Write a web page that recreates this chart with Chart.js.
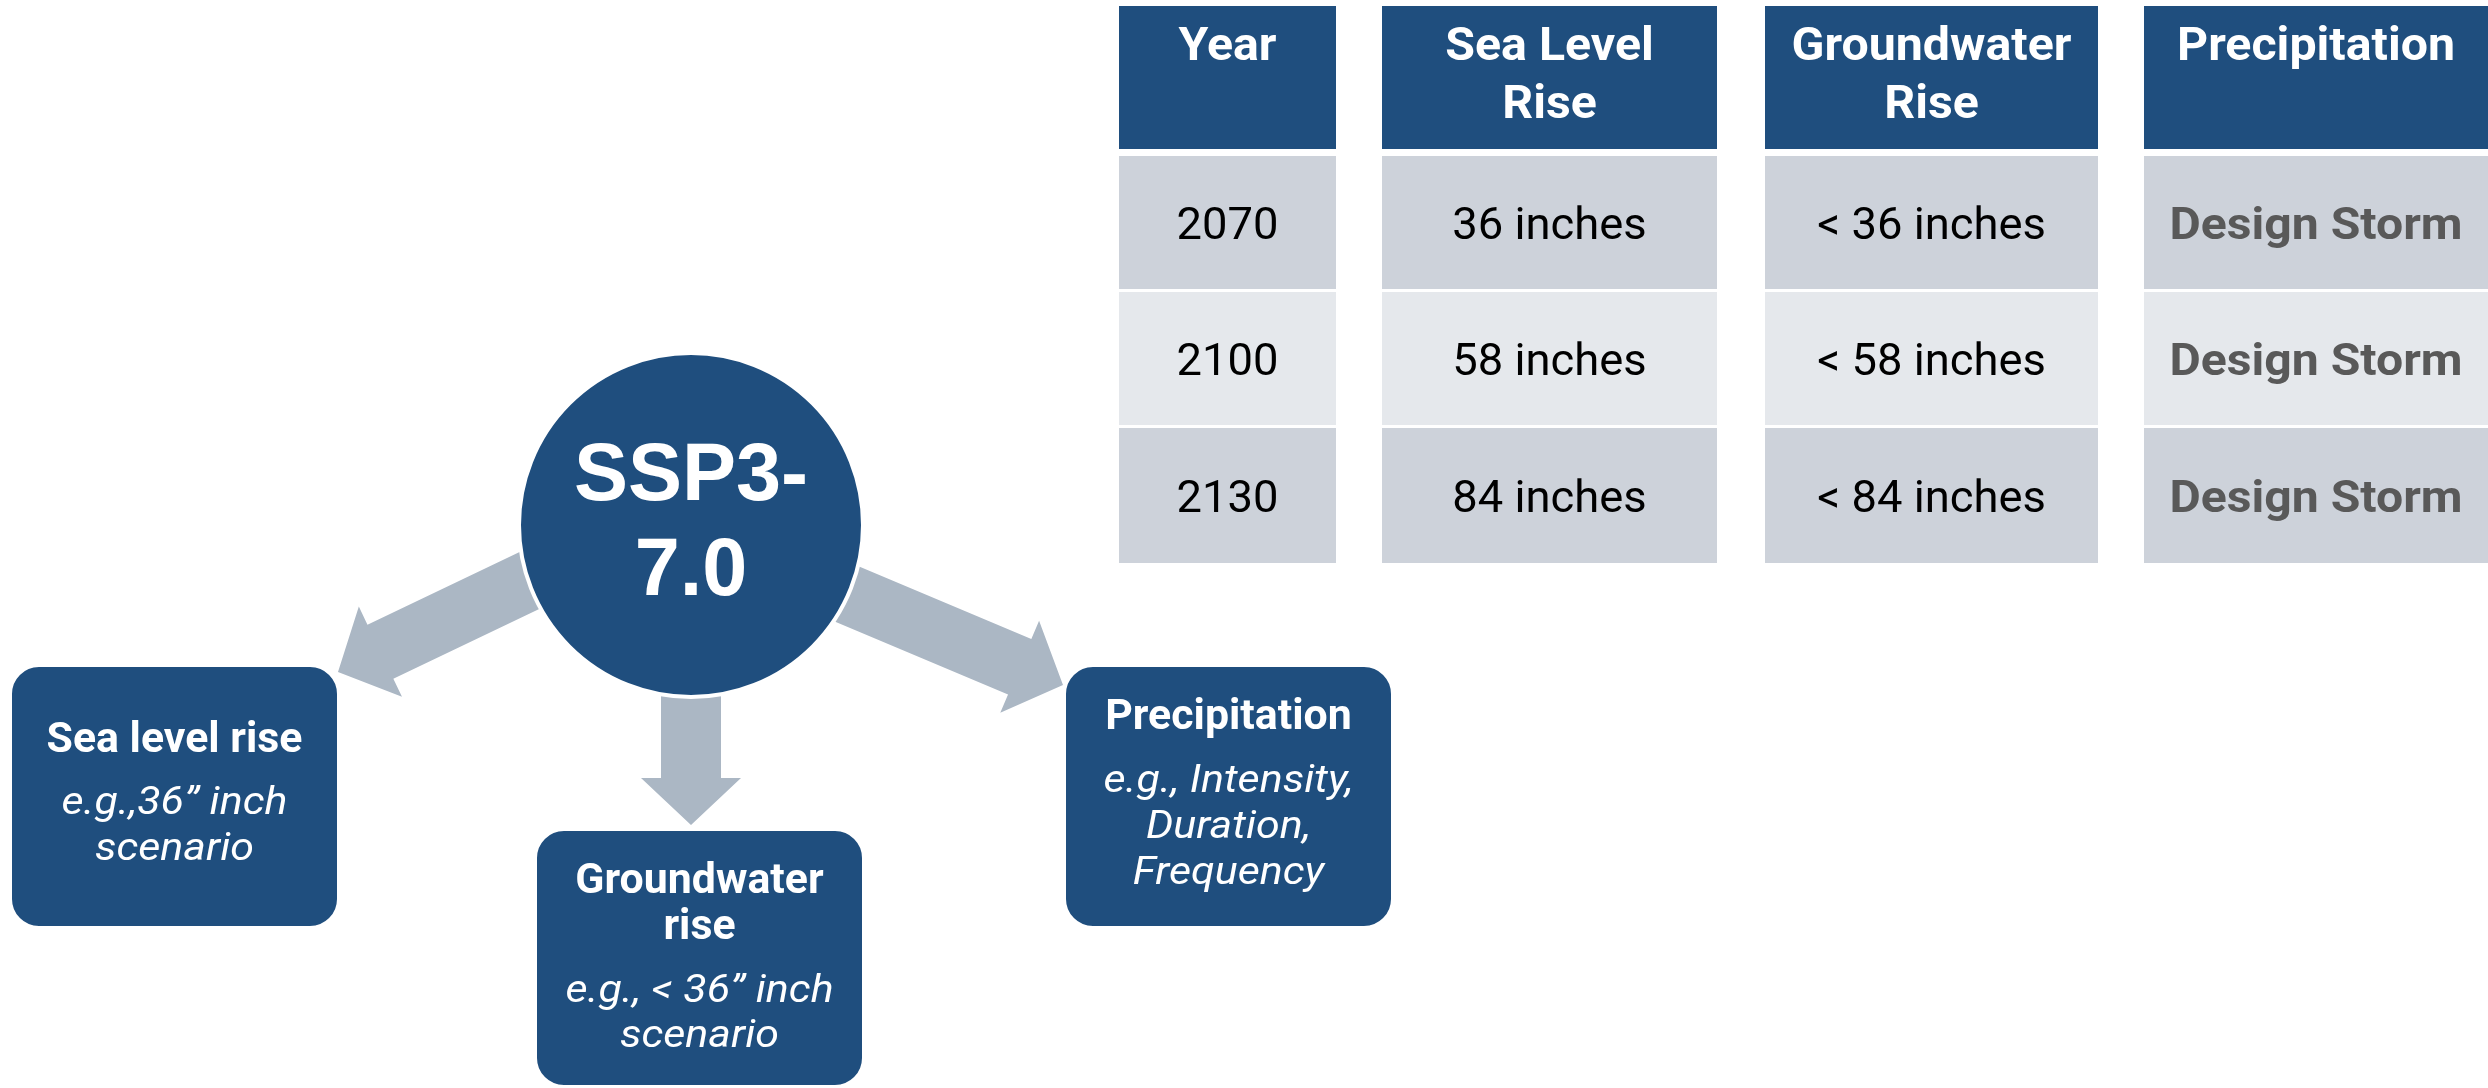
<!DOCTYPE html>
<html>
<head>
<meta charset="utf-8">
<script src="https://cdn.jsdelivr.net/npm/chart.js@4"></script>
<style>
html,body{margin:0;padding:0;background:#ffffff;}
#wrap{width:2488px;height:1088px;position:relative;}
</style>
</head>
<body>
<div id="wrap"><canvas id="c"></canvas></div>
<script>
// ---- data ----
const headers = [["Year"], ["Sea Level", "Rise"], ["Groundwater", "Rise"], ["Precipitation"]];
const years = ["2070", "2100", "2130"];
const seaLevelRise = [36, 58, 84];          // inches
const groundwaterRise = [36, 58, 84];       // shown as "< N inches"
const precipitation = ["Design Storm", "Design Storm", "Design Storm"];
const scenarioLines = ["SSP3-", "7.0"];
const driverTitles = [["Sea level rise"], ["Groundwater", "rise"], ["Precipitation"]];
const driverExamples = [["e.g.,36\u201D inch", "scenario"], ["e.g., < 36\u201D inch", "scenario"], ["e.g., Intensity,", "Duration,", "Frequency"]];

// ---- layout (canvas units through the chart scales) ----
const colX = [[1119, 1336], [1382, 1717], [1765, 2098], [2144, 2488]];
const headerY = [6, 149];
const rowY = [[156, 289], [292, 425], [428, 563]];
const circle = {x: 691, y: 525, r: 172};
const boxes = [
  {x0: 11, x1: 338, y0: 666, y1: 927, title: [752], ex: [814, 860]},
  {x0: 536, x1: 863, y0: 830, y1: 1086, title: [893, 939], ex: [1002, 1047]},
  {x0: 1065, x1: 1392, y0: 666, y1: 927, title: [729], ex: [792, 838, 884]}
];
const arrows = [
  {from: [635, 530], to: [338, 672]},
  {from: [691, 650], to: [691, 825]},
  {from: [759, 557], to: [1063, 685]}
];

const BLUE = '#1F4E7E', ROW_A = '#CDD2DA', ROW_B = '#E5E8EC', ARROW = '#ABB7C4';
const FONT = 'Roboto, "Liberation Sans", sans-serif';

function txt(ctx, s, x, y, font, color, hs) {
  ctx.save();
  ctx.font = font; ctx.fillStyle = color;
  ctx.textAlign = 'center'; ctx.textBaseline = 'alphabetic';
  ctx.translate(x, y); ctx.scale(hs || 1, 1);
  ctx.fillText(s, 0, 0);
  ctx.restore();
}

const diagram = {
  id: 'diagram',
  afterDraw(chart) {
    const ctx = chart.ctx, sx = chart.scales.x, sy = chart.scales.y;
    const X = v => sx.getPixelForValue(v), Y = v => sy.getPixelForValue(v);
    // table
    headers.forEach((lines, c) => {
      const [a, b] = colX[c];
      ctx.fillStyle = BLUE;
      ctx.fillRect(X(a), Y(headerY[0]), X(b) - X(a), Y(headerY[1]) - Y(headerY[0]));
      lines.forEach((l, i) => txt(ctx, l, (X(a) + X(b)) / 2, Y(60 + i * 58), 'bold 46px ' + FONT, '#ffffff', 1.05));
    });
    years.forEach((yr, r) => {
      const [t, bt] = rowY[r];
      const cells = [yr, seaLevelRise[r] + ' inches', '< ' + groundwaterRise[r] + ' inches', precipitation[r]];
      cells.forEach((s, c) => {
        const [a, b] = colX[c];
        ctx.fillStyle = r === 1 ? ROW_B : ROW_A;
        ctx.fillRect(X(a), Y(t), X(b) - X(a), Y(bt) - Y(t));
        const cy = (Y(t) + Y(bt)) / 2 + 16;
        if (c === 3) txt(ctx, s, (X(a) + X(b)) / 2, cy, 'bold 45px ' + FONT, '#595959', 1.07);
        else txt(ctx, s, (X(a) + X(b)) / 2, cy, '44px ' + FONT, '#000000', 1.03);
      });
    });
    // arrows
    arrows.forEach(a => {
      const x0 = X(a.from[0]), y0 = Y(a.from[1]), x1 = X(a.to[0]), y1 = Y(a.to[1]);
      const L = Math.hypot(x1 - x0, y1 - y0), dx = (x1 - x0) / L, dy = (y1 - y0) / L;
      const nx = -dy, ny = dx, sw = 30, hw = 50, hl = 47;
      const bx = x1 - dx * hl, by = y1 - dy * hl;
      ctx.fillStyle = ARROW;
      ctx.beginPath();
      ctx.moveTo(x0 + nx * sw, y0 + ny * sw);
      ctx.lineTo(bx + nx * sw, by + ny * sw);
      ctx.lineTo(bx + nx * hw, by + ny * hw);
      ctx.lineTo(x1, y1);
      ctx.lineTo(bx - nx * hw, by - ny * hw);
      ctx.lineTo(bx - nx * sw, by - ny * sw);
      ctx.lineTo(x0 - nx * sw, y0 - ny * sw);
      ctx.closePath(); ctx.fill();
    });
    // circle
    ctx.beginPath();
    ctx.arc(X(circle.x), Y(circle.y), X(circle.r) - X(0), 0, Math.PI * 2);
    ctx.fillStyle = BLUE; ctx.fill();
    ctx.lineWidth = 4; ctx.strokeStyle = '#ffffff'; ctx.stroke();
    txt(ctx, scenarioLines[0], X(circle.x), Y(500), 'bold 81px "Liberation Sans", Arial, sans-serif', '#ffffff', 1);
    txt(ctx, scenarioLines[1], X(circle.x), Y(595), 'bold 81px "Liberation Sans", Arial, sans-serif', '#ffffff', 1);
    // boxes
    boxes.forEach((b, i) => {
      ctx.beginPath();
      ctx.roundRect(X(b.x0), Y(b.y0), X(b.x1) - X(b.x0), Y(b.y1) - Y(b.y0), 28);
      ctx.fillStyle = BLUE; ctx.fill();
      ctx.lineWidth = 2; ctx.strokeStyle = '#ffffff'; ctx.stroke();
      const cx = (X(b.x0) + X(b.x1)) / 2;
      driverTitles[i].forEach((l, k) => txt(ctx, l, cx, Y(b.title[k]), 'bold 42px ' + FONT, '#ffffff', 1.02));
      driverExamples[i].forEach((l, k) => txt(ctx, l, cx, Y(b.ex[k]), 'italic 38px ' + FONT, '#ffffff', 1.13));
    });
  }
};

new Chart(document.getElementById('c'), {
  type: 'scatter',
  data: {datasets: [{data: [], pointRadius: 0}]},
  options: {
    responsive: true, maintainAspectRatio: false, animation: false, devicePixelRatio: 1,
    layout: {padding: 0},
    plugins: {legend: {display: false}, tooltip: {enabled: false}},
    scales: {
      x: {type: 'linear', min: 0, max: 2488, display: false},
      y: {type: 'linear', min: 0, max: 1088, reverse: true, display: false}
    }
  },
  plugins: [diagram]
});
</script>
</body>
</html>
